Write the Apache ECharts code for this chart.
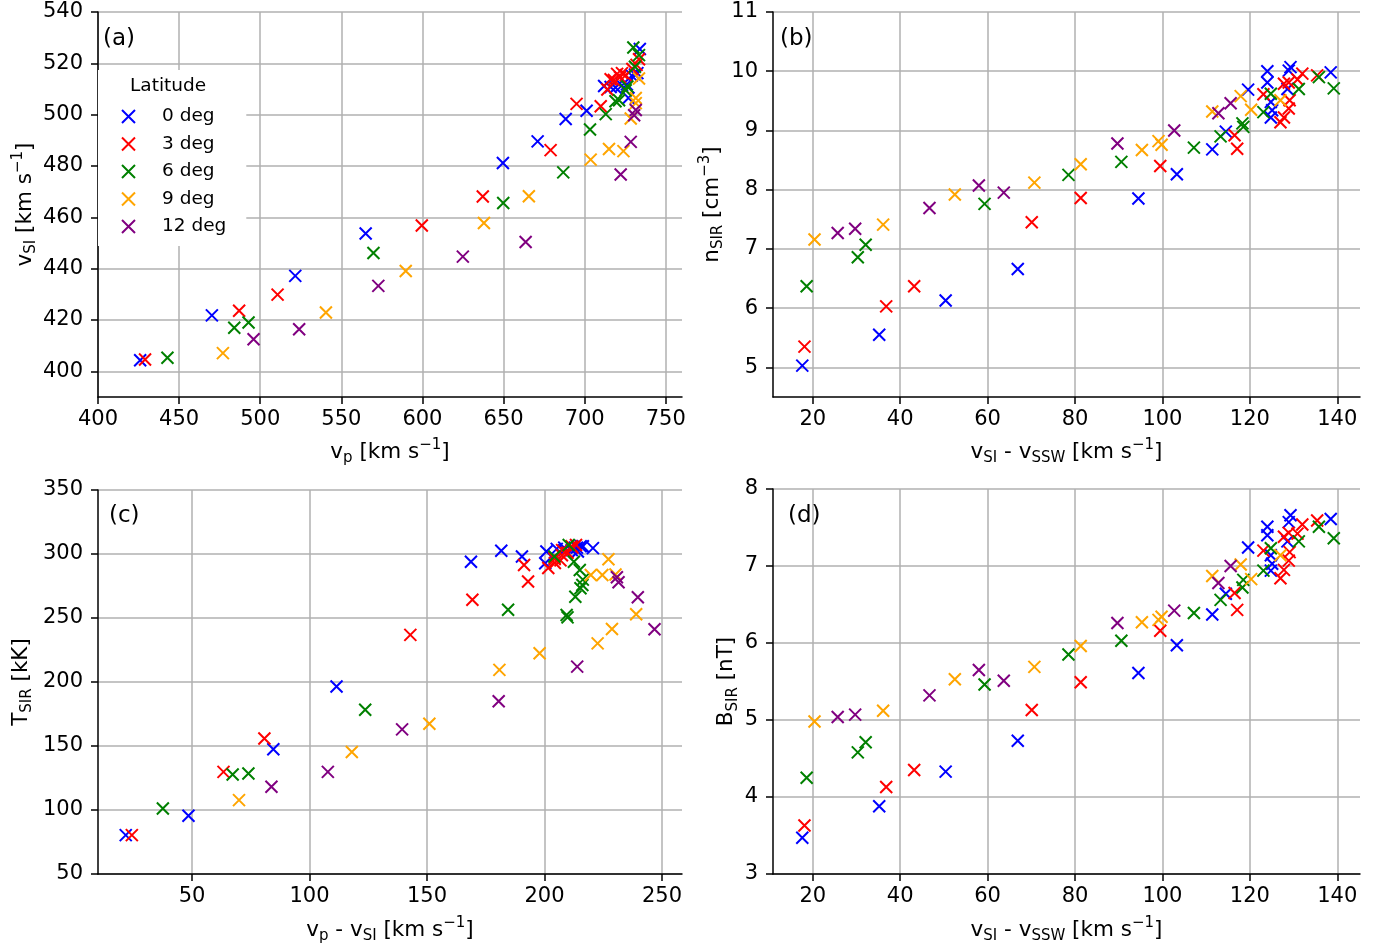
<!DOCTYPE html>
<html>
<head>
<meta charset="utf-8">
<script src="https://cdn.jsdelivr.net/npm/echarts@6/dist/echarts.min.js"></script>
<style>
  html, body { margin: 0; padding: 0; background: #ffffff; }
  #chart { width: 1387px; height: 952px; }
</style>
</head>
<body>
<div id="chart"></div>
<script>
// Latitude runs and their marker colours
const latitudes = ['0 deg', '3 deg', '6 deg', '9 deg', '12 deg'];
const colors = ['#0000ff', '#ff0000', '#008000', '#ffa500', '#800080'];

// Proton speed v_p [km/s], one list per latitude
const vP = [
  [426, 470.2, 521.6, 565, 649.6, 671, 688.3, 701.2, 727, 716, 719, 723, 726, 712, 729, 731, 732.5, 734],
  [429, 487, 510.7, 599.6, 637.2, 679, 709.9, 695, 714, 718, 721.8, 725.3, 720, 716, 723, 729.4, 732, 733.5],
  [442.8, 484, 492.8, 569.8, 649.8, 686.8, 703.3, 713, 719, 721.2, 725.3, 726.3, 731, 733.5, 730],
  [477, 540.5, 589.7, 637.9, 665.6, 703.7, 715, 723.9, 728.4, 731.5, 731.5, 733.5],
  [495.9, 524, 572.8, 624.9, 663.6, 722.2, 728.4, 730.5, 731.5]
];

// Stream interface speed v_SI [km/s]
const vSI = [
  [404.3, 421.8, 437.2, 453.7, 481.2, 489.6, 498.3, 501.5, 506.5, 510.8, 510.6, 511.4, 511.8, 511.2, 515.2, 515.6, 516.2, 525.6],
  [404.6, 423.6, 429.9, 456.8, 468.1, 486.2, 503.3, 504.2, 509.8, 513.5, 514.6, 515.4, 515.9, 513.8, 516.2, 517.8, 519.4, 521.6],
  [405.3, 417.0, 419.0, 446.1, 465.6, 477.5, 494.2, 500.2, 505.2, 505.6, 509.5, 511.0, 518.7, 523.2, 526.2],
  [407.1, 422.9, 439.1, 457.8, 468.2, 482.5, 486.6, 485.8, 498.5, 504.5, 506.5, 514.1],
  [412.5, 416.4, 433.3, 444.7, 450.4, 476.7, 489.4, 499.8, 501.8]
];

// v_SI - v_SSW [km/s]
const dV = [
  [17.6, 35.2, 50.4, 66.9, 94.5, 103.3, 111.4, 114.5, 119.6, 124.0, 124.0, 124.8, 125.1, 124.8, 128.6, 128.9, 129.3, 138.5],
  [18.1, 36.8, 43.2, 70.1, 81.3, 99.5, 116.5, 117.1, 123.1, 127.0, 127.8, 128.9, 129.1, 127.8, 128.9, 130.9, 132.0, 135.4],
  [18.6, 30.3, 32.1, 59.3, 78.5, 90.6, 107.2, 113.3, 118.3, 118.5, 123.1, 124.8, 131.2, 135.8, 139.2],
  [20.4, 36.1, 52.5, 70.7, 81.3, 95.3, 99.1, 99.8, 111.4, 117.9, 120.3, 127.0],
  [25.7, 29.7, 46.7, 58.0, 63.7, 89.7, 102.7, 112.8, 115.6]
];

// v_p - v_SI [km/s]
const dVp = [
  [21.8, 48.5, 84.6, 111.5, 168.7, 181.6, 190.4, 200.3, 220.6, 205.2, 208.4, 211.6, 214.2, 200.8, 213.8, 215.4, 216.3, 208.4],
  [24.4, 63.4, 80.8, 142.9, 169.3, 193.0, 206.8, 191.3, 204.3, 204.4, 207.4, 209.8, 204.3, 201.6, 207.5, 211.9, 213.4, 211.5],
  [37.6, 67.3, 74.0, 123.7, 184.5, 209.4, 209.8, 213.1, 215.3, 216.1, 216.3, 215.0, 212.5, 210.3, 204.2],
  [70.0, 118.0, 151.0, 180.8, 197.9, 222.6, 228.7, 239.0, 230.2, 227.2, 224.6, 219.7],
  [83.8, 107.8, 139.4, 180.5, 213.9, 246.8, 239.7, 231.5, 230.8]
];

// SIR density n_SIR [cm^-3]
const nSIR = [
  [5.03, 5.55, 6.13, 6.66, 7.85, 8.26, 8.68, 8.98, 9.69, 10.0, 9.81, 9.48, 9.34, 9.22, 9.70, 10.01, 10.07, 9.98],
  [5.35, 6.03, 6.37, 7.45, 7.86, 8.40, 8.92, 8.69, 9.61, 9.14, 9.22, 9.37, 9.51, 9.79, 9.81, 9.86, 9.96, 9.93],
  [6.37, 6.86, 7.07, 7.76, 8.25, 8.47, 8.71, 8.90, 9.12, 9.06, 9.31, 9.62, 9.70, 9.90, 9.71],
  [7.16, 7.41, 7.92, 8.12, 8.43, 8.67, 8.82, 8.76, 9.32, 9.58, 9.35, 9.51],
  [7.27, 7.34, 7.69, 8.07, 7.95, 8.78, 9.00, 9.29, 9.46]
];

// SIR temperature T_SIR [kK]
const tSIR = [
  [80.4, 95.5, 147.4, 196.5, 294, 302.6, 298, 292.8, 304.6, 304, 305, 303, 302, 301.9, 305, 306, 306, 303],
  [80.4, 129.8, 155.8, 236.8, 264.3, 278.5, 295, 291.4, 297, 293, 299, 301, 296, 289, 303, 305, 307, 306],
  [101.2, 127.7, 128.5, 178.3, 256.5, 252.3, 250.5, 266.6, 273.2, 275.8, 280, 287.5, 294, 307, 298],
  [107.7, 145.3, 167.4, 209.5, 222.4, 230.2, 241.4, 252.9, 284, 295.9, 283.6, 283.6],
  [118.1, 129.8, 163.0, 185.0, 212.0, 241.2, 266.2, 277.9, 281.8]
];

// SIR magnetic field B_SIR [nT]
const bSIR = [
  [3.47, 3.88, 4.33, 4.73, 5.61, 5.97, 6.37, 6.64, 7.24, 7.51, 7.40, 7.14, 7.03, 6.94, 7.32, 7.57, 7.66, 7.61],
  [3.63, 4.13, 4.35, 5.13, 5.49, 6.16, 6.65, 6.43, 7.20, 6.84, 6.95, 7.07, 7.18, 7.38, 7.43, 7.42, 7.54, 7.59],
  [4.25, 4.58, 4.71, 5.46, 5.85, 6.03, 6.39, 6.56, 6.72, 6.82, 6.94, 7.23, 7.32, 7.51, 7.36],
  [4.98, 5.12, 5.53, 5.69, 5.96, 6.27, 6.30, 6.34, 6.87, 7.02, 6.83, 7.14],
  [5.04, 5.07, 5.32, 5.65, 5.51, 6.26, 6.42, 6.78, 7.00]
];

// Tick values for each axis
const ticksVp = [400, 450, 500, 550, 600, 650, 700, 750];
const ticksVsi = [400, 420, 440, 460, 480, 500, 520, 540];
const ticksDv = [20, 40, 60, 80, 100, 120, 140];
const ticksN = [5, 6, 7, 8, 9, 10, 11];
const ticksDvp = [50, 100, 150, 200, 250];
const ticksT = [50, 100, 150, 200, 250, 300, 350];
const ticksB = [3, 4, 5, 6, 7, 8];

const FONT = 'DejaVu Sans';
const xMark = 'path://M0,0L10,10M0,10L10,0';

const nameRich = {
  sub: { fontSize: 15, fontFamily: FONT, color: '#000', lineHeight: 15, verticalAlign: 'bottom' },
  sup: { fontSize: 15, fontFamily: FONT, color: '#000', lineHeight: 15, verticalAlign: 'top' }
};

function axis(gridIndex, min, max, ticks, name, nameGap, vertical) {
  return {
    type: 'value',
    gridIndex: gridIndex,
    min: min,
    max: max,
    position: vertical ? 'left' : 'bottom',
    name: name,
    nameLocation: 'middle',
    nameGap: nameGap,
    nameRotate: vertical ? 90 : 0,
    nameTextStyle: { fontSize: 21.5, fontFamily: FONT, color: '#000', lineHeight: 28, rich: nameRich },
    axisLine: { show: true, onZero: false, lineStyle: { color: '#000', width: 1.5 } },
    axisTick: { show: true, inside: false, length: 7, customValues: ticks, lineStyle: { color: '#000', width: 1.5 } },
    axisLabel: { show: true, customValues: ticks, fontSize: 21, fontFamily: FONT, color: '#000', margin: vertical ? 15 : 12 },
    splitLine: { show: true, lineStyle: { color: '#b0b0b0', width: 1.5 } }
  };
}

const xAxes = [
  axis(0, 400, 760, ticksVp, 'v{sub|p} [km s{sup|−1}]', 41, false),
  axis(1, 10.9, 145.2, ticksDv, 'v{sub|SI} - v{sub|SSW} [km s{sup|−1}]', 41, false),
  axis(2, 10, 258.5, ticksDvp, 'v{sub|p} - v{sub|SI} [km s{sup|−1}]', 42, false),
  axis(3, 10.9, 145.2, ticksDv, 'v{sub|SI} - v{sub|SSW} [km s{sup|−1}]', 42, false)
];
const yAxes = [
  axis(0, 390, 540, ticksVsi, 'v{sub|SI} [km s{sup|−1}]', 58, true),
  axis(1, 4.5, 11, ticksN, 'n{sub|SIR} [cm{sup|−3}]', 47, true),
  axis(2, 50, 350, ticksT, 'T{sub|SIR} [kK]', 63, true),
  axis(3, 3, 8, ticksB, 'B{sub|SIR} [nT]', 31, true)
];

const grids = [
  { left: 98, top: 12, width: 584, height: 385 },
  { left: 773, top: 12, width: 587, height: 385 },
  { left: 98, top: 490, width: 584, height: 384 },
  { left: 773, top: 489, width: 587, height: 385 }
];

// x/y quantity pairs for the four panels
const panels = [
  [vP, vSI],
  [dV, nSIR],
  [dVp, tSIR],
  [dV, bSIR]
];

const series = [];
panels.forEach(function (p, gi) {
  latitudes.forEach(function (lat, k) {
    const xs = p[0][k], ys = p[1][k];
    series.push({
      type: 'scatter',
      name: lat,
      xAxisIndex: gi,
      yAxisIndex: gi,
      symbol: xMark,
      symbolSize: 12,
      itemStyle: { color: colors[k], borderColor: colors[k], borderWidth: 2, opacity: 1 },
      emphasis: { disabled: true },
      z: 3,
      data: xs.map(function (v, i) { return [v, ys[i]]; })
    });
  });
});

function panelLabel(text, x, y) {
  return {
    type: 'text', left: x, top: y, z: 100,
    style: { text: text, fontSize: 23, fontFamily: FONT, fill: '#000' }
  };
}

const chart = echarts.init(document.getElementById('chart'), null, { renderer: 'canvas' });
chart.setOption({
  animation: false,
  backgroundColor: '#ffffff',
  grid: grids,
  xAxis: xAxes,
  yAxis: yAxes,
  legend: {
    data: latitudes,
    orient: 'vertical',
    left: 98,
    top: 70,
    padding: [37, 20, 10, 23],
    backgroundColor: '#ffffff',
    icon: xMark,
    itemWidth: 13,
    itemHeight: 13,
    itemGap: 8.5,
    selectedMode: false,
    itemStyle: { borderWidth: 2 },
    formatter: function (name) { return '{p|}' + name; },
    textStyle: { fontSize: 18.5, fontFamily: FONT, color: '#000', rich: { p: { width: 22 } } }
  },
  graphic: [
    panelLabel('(a)', 103, 28),
    panelLabel('(b)', 780, 28),
    panelLabel('(c)', 109, 505),
    panelLabel('(d)', 788, 505),
    {
      type: 'text', left: 130, top: 77, z: 100,
      style: { text: 'Latitude', fontSize: 18.5, fontFamily: FONT, fill: '#000' }
    }
  ],
  series: series
});
</script>
</body>
</html>
